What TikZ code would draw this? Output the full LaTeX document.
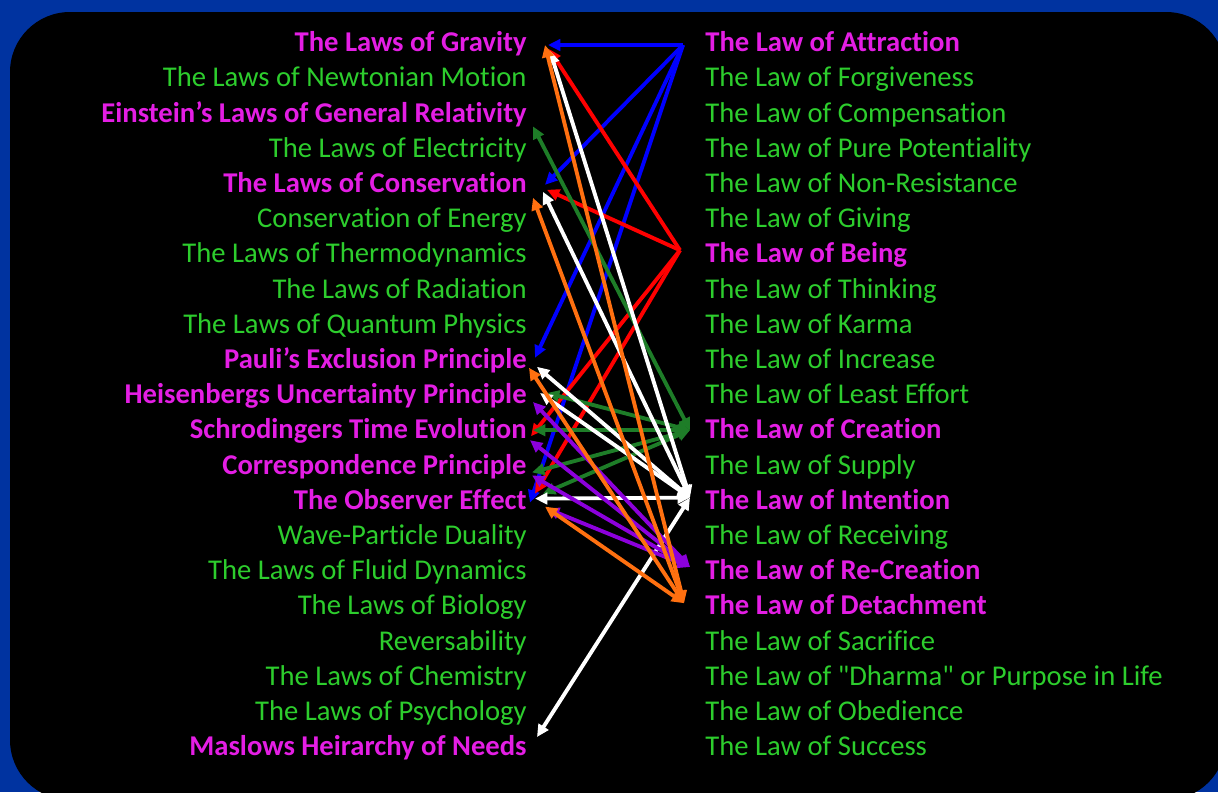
\documentclass[tikz,border=0pt]{standalone}
\usepackage{fontspec}
\setmainfont{Carlito}[Ligatures={TeXOff,CommonOff}]
\usetikzlibrary{arrows.meta}
\definecolor{bgblue}{RGB}{0,51,160}
\definecolor{lawgreen}{RGB}{45,205,45}
\definecolor{lawpink}{RGB}{228,30,228}
\definecolor{linkgreen}{RGB}{30,125,40}
\definecolor{linkorange}{RGB}{255,112,16}
\definecolor{linkpurple}{RGB}{140,0,220}
\tikzset{
  law/.style={text=lawgreen, font=\fontsize{16.3}{20}\selectfont, inner sep=0pt, text height=1.06em, text depth=0.06em},
  keylaw/.style={law, text=lawpink, font=\fontsize{16.3}{20}\selectfont\bfseries},
  link/.style={line width=2.2pt, -{Triangle[length=7pt,width=6.5pt]}},
  linkboth/.style={line width=2.2pt, {Triangle[length=7pt,width=6.5pt]}-{Triangle[length=7pt,width=6.5pt]}}
}
\begin{document}
\begin{tikzpicture}[x=0.02cm, y=-0.02cm]
  \useasboundingbox (0,0) rectangle (1218,792);
  \fill[bgblue] (0,0) rectangle (1218,792);
  \fill[black, rounded corners=1.2cm] (10,12) rectangle (1226,800);
  % physical laws
  \foreach \n/\s/\t [count=\i from 0] in {
    gravity/keylaw/The Laws of Gravity,
    newton/law/The Laws of Newtonian Motion,
    einstein/keylaw/Einstein’s Laws of General Relativity,
    electricity/law/The Laws of Electricity,
    conservation/keylaw/The Laws of Conservation,
    energy/law/Conservation of Energy,
    thermo/law/The Laws of Thermodynamics,
    radiation/law/The Laws of Radiation,
    quantum/law/The Laws of Quantum Physics,
    pauli/keylaw/Pauli’s Exclusion Principle,
    heisenberg/keylaw/Heisenbergs Uncertainty Principle,
    schrodinger/keylaw/Schrodingers Time Evolution,
    correspondence/keylaw/Correspondence Principle,
    observer/keylaw/The Observer Effect,
    duality/law/Wave-Particle Duality,
    fluid/law/The Laws of Fluid Dynamics,
    biology/law/The Laws of Biology,
    reversability/law/Reversability,
    chemistry/law/The Laws of Chemistry,
    psychology/law/The Laws of Psychology,
    maslow/keylaw/Maslows Heirarchy of Needs}
    \node[\s, anchor=east] (\n) at (527,{43+35.2*\i}) {\t};
  % spiritual laws
  \foreach \n/\s/\t [count=\i from 0] in {
    attraction/keylaw/The Law of Attraction,
    forgiveness/law/The Law of Forgiveness,
    compensation/law/The Law of Compensation,
    potentiality/law/The Law of Pure Potentiality,
    nonresistance/law/The Law of Non-Resistance,
    giving/law/The Law of Giving,
    being/keylaw/The Law of Being,
    thinking/law/The Law of Thinking,
    karma/law/The Law of Karma,
    increase/law/The Law of Increase,
    leasteffort/law/The Law of Least Effort,
    creation/keylaw/The Law of Creation,
    supply/law/The Law of Supply,
    intention/keylaw/The Law of Intention,
    receiving/law/The Law of Receiving,
    recreation/keylaw/The Law of Re-Creation,
    detachment/keylaw/The Law of Detachment,
    sacrifice/law/The Law of Sacrifice,
    dharma/law/The Law of "Dharma" or Purpose in Life,
    obedience/law/The Law of Obedience,
    success/law/The Law of Success}
    \node[\s, anchor=west] (\n) at (705,{43+35.2*\i}) {\t};
  % links
  \foreach \n/\dx/\dy in {gravity/21/2, conservation/18/1, pauli/8/-2, observer/3/2}
    \draw[link, blue] ([shift={(-22,2)}]attraction.west) -- ([shift={(\dx,\dy)}]\n.east);
  \foreach \n/\dx/\dy in {gravity/22/6, conservation/20/6, schrodinger/4/6, observer/8/-7}
    \draw[link, red] ([shift={(-25,-4)}]being.west) -- ([shift={(\dx,\dy)}]\n.east);
  \foreach \n/\dx/\dy in {einstein/6/13, heisenberg/20/-2, schrodinger/6/0, correspondence/5/7, observer/16/-7}
    \draw[linkboth, linkgreen] ([shift={(-15,0)}]creation.west) -- ([shift={(\dx,\dy)}]\n.east);
  \foreach \n/\dx/\dy in {gravity/23/8, conservation/16/8, pauli/10/7, heisenberg/13/-2, observer/8/-2, maslow/10/-10}
    \draw[linkboth, white] ([shift={(-15,-3)}]intention.west) -- ([shift={(\dx,\dy)}]\n.east);
  \foreach \n/\dx/\dy in {heisenberg/6/7, schrodinger/3/10, correspondence/5/10, observer/20/8}
    \draw[linkboth, linkpurple] ([shift={(-15,-4)}]recreation.west) -- ([shift={(\dx,\dy)}]\n.east);
  \foreach \n/\dx/\dy in {gravity/18/2, conservation/6/14, pauli/2/8, observer/18/6}
    \draw[linkboth, linkorange] ([shift={(-21,-3)}]detachment.west) -- ([shift={(\dx,\dy)}]\n.east);
\end{tikzpicture}
\end{document}
